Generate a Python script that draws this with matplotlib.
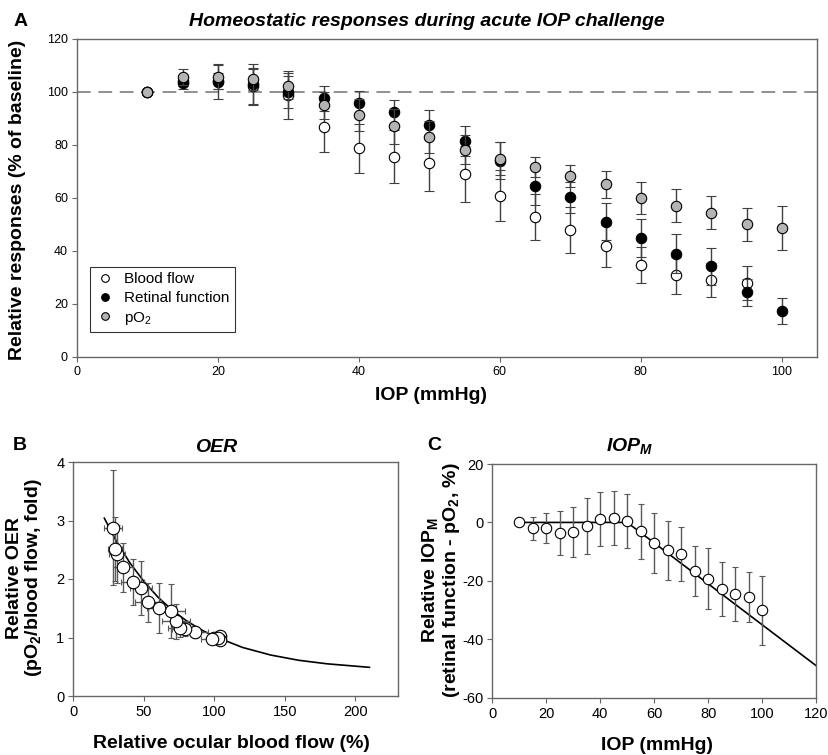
# %% Homeostatic responses during acute IOP challenge

import numpy as np
import matplotlib
matplotlib.use("Agg")
import matplotlib.pyplot as plt
from matplotlib.lines import Line2D

plt.rcParams["font.family"] = ["Liberation Sans", "DejaVu Sans"]
plt.rcParams["mathtext.fontset"] = "custom"
plt.rcParams["mathtext.rm"] = "Liberation Sans"
plt.rcParams["mathtext.it"] = "Liberation Sans:italic"
plt.rcParams["mathtext.bf"] = "Liberation Sans:bold"
plt.rcParams["mathtext.bfit"] = "Liberation Sans:italic:bold"
plt.rcParams["axes.unicode_minus"] = False

# %% Data

# Panel A: responses vs IOP
iop = [10, 15, 20, 25, 30, 35, 40, 45, 50, 55, 60, 65, 70, 75, 80, 85, 90, 95, 100]

iop_bf = iop[:-1]
blood_flow = [100, 104, 104, 102.1, 98.7, 86.5, 78.6, 75.5, 73.0, 68.9, 60.8,
              52.7, 47.9, 41.8, 34.6, 30.7, 28.8, 27.9]
blood_flow_err = [0, 2, 3, 7, 9, 9.4, 9.4, 10, 10.5, 10.7, 9.7,
                  8.8, 8.7, 8, 6.9, 6.9, 6.4, 6.4]

retinal = [100, 103.1, 103.8, 102.9, 100.0, 97.5, 95.6, 92.2, 87.5, 81.4, 74.0,
           64.4, 60.1, 50.9, 44.7, 38.9, 34.1, 24.3, 17.2]
retinal_err = [0, 2, 6.5, 7.4, 6, 4.6, 4.8, 4.8, 5.5, 5.8, 7,
               7, 6, 7, 7.2, 7.4, 7, 5, 4.9]

po2 = [100, 105.7, 105.7, 104.7, 102.1, 94.8, 91.2, 86.9, 82.8, 78.1, 74.7,
       71.6, 68.2, 65.0, 60.0, 57.0, 54.3, 49.9, 48.7]
po2_err = [0, 3, 4.5, 4, 5, 5, 6, 6.5, 6, 5.5, 6.3,
           3.6, 4.1, 5, 6, 6.1, 6.2, 6.1, 8.3]

# Panel B: relative OER vs relative ocular blood flow
oer_bf = [100, 104, 104, 102.5, 98.5, 86.5, 79, 76, 73, 69, 61,
          53, 48, 42, 35, 31, 29.5, 28]
oer_bf_err = [0, 3, 3, 6, 8, 9, 9, 9, 10, 10, 9,
              9, 8, 8, 7, 6, 5, 6.5]
oer = [1.00, 1.02, 0.96, 1.00, 0.98, 1.09, 1.15, 1.16, 1.28, 1.46, 1.50,
       1.60, 1.85, 1.95, 2.20, 2.43, 2.51, 2.88]
oer_err = [0, 0.05, 0.05, 0.06, 0.08, 0.1, 0.12, 0.15, 0.3, 0.46, 0.43,
           0.33, 0.46, 0.39, 0.42, 0.5, 0.55, 0.98]

# fitted curve
oer_fit_x = [22, 30, 40, 50, 60, 70, 80, 90, 100, 120, 140, 160, 180, 210]
oer_fit_y = [3.04, 2.67, 2.28, 1.96, 1.69, 1.47, 1.29, 1.14, 1.02, 0.83,
             0.70, 0.61, 0.55, 0.49]

# Panel C: relative IOP_M vs IOP
iopm = [0.0, -2.0, -1.9, -3.5, -3.3, -1.2, 1.3, 1.5, 0.4, -3.1, -7.1,
        -9.6, -10.8, -16.6, -19.2, -22.8, -24.5, -25.5, -30.1]
iopm_err = [0, 3.9, 5.0, 7.5, 8.6, 9.5, 9.2, 9.3, 9.3, 9.3, 10.2,
            10.0, 9.3, 8.6, 10.3, 9.4, 9.1, 8.5, 11.8]

# two-segment fit line
iopm_fit_x = [10, 50, 120]
iopm_fit_y = [0, 0, -49]

# %% Figure

W, H = 829, 755
fig = plt.figure(figsize=(W / 100, H / 100), dpi=100)

spine_col = "0.4"
err_col = "0.25"
gray_fill = "#b4b4b4"


def style_axes(ax, tick_size):
    for s in ax.spines.values():
        s.set_color(spine_col)
        s.set_linewidth(1.0)
    ax.tick_params(direction="out", length=3.5, width=0.8, color=spine_col,
                   labelsize=tick_size, pad=3)


def px_rect(left, top, right, bottom):
    return [left / W, 1 - bottom / H, (right - left) / W, (bottom - top) / H]


# ---- Panel A
axA = fig.add_axes(px_rect(77, 38.7, 817, 356.7))
axA.axhline(100, color="0.45", lw=1.1, dashes=(9, 5), zorder=1)

eb_kw = dict(fmt="o", ms=7.5, mew=0.8, mec="black", ecolor=err_col,
             elinewidth=1.0, capsize=3.5, capthick=1.0)
axA.errorbar(iop_bf, blood_flow, yerr=blood_flow_err, mfc="white", zorder=3, **eb_kw)
axA.errorbar(iop, retinal, yerr=retinal_err, mfc="black", zorder=4, **eb_kw)
axA.errorbar(iop, po2, yerr=po2_err, mfc=gray_fill, zorder=5, **eb_kw)

axA.set_xlim(0, 105)
axA.set_ylim(0, 120)
axA.set_xticks([0, 20, 40, 60, 80, 100])
axA.set_yticks([0, 20, 40, 60, 80, 100, 120])
style_axes(axA, 9)

handles = [
    Line2D([], [], ls="none", marker="o", ms=5.5, mfc="white", mec="black", mew=0.8),
    Line2D([], [], ls="none", marker="o", ms=5.5, mfc="black", mec="black", mew=0.8),
    Line2D([], [], ls="none", marker="o", ms=5.5, mfc=gray_fill, mec="black", mew=0.8),
]
leg = axA.legend(handles, ["Blood flow", "Retinal function", "pO$_2$"],
                 loc="lower left", bbox_to_anchor=(0.0176, 0.0777),
                 borderaxespad=0, fontsize=11, frameon=True, fancybox=False,
                 handletextpad=0.7, handlelength=1.2, borderpad=0.35,
                 labelspacing=0.3)
leg.get_frame().set_edgecolor("black")
leg.get_frame().set_linewidth(0.8)

fig.text(427 / W, 1 - 21 / H, "Homeostatic responses during acute IOP challenge",
         ha="center", va="center", fontsize=14, fontweight="bold", style="italic")
fig.text(431 / W, 1 - 396 / H, "IOP (mmHg)", ha="center", va="center",
         fontsize=14, fontweight="bold")
fig.text(18 / W, 1 - 200 / H, "Relative responses (% of baseline)", ha="center",
         va="center", rotation=90, fontsize=14, fontweight="bold")
fig.text(21 / W, 1 - 21 / H, "A", ha="center", va="center", fontsize=14,
         fontweight="bold")

# ---- Panel B
axB = fig.add_axes(px_rect(73.3, 462, 397.7, 696))
axB.plot(oer_fit_x, oer_fit_y, color="black", lw=1.2, zorder=2)
axB.errorbar(oer_bf, oer, xerr=oer_bf_err, yerr=oer_err, fmt="o", ms=9,
             mfc="white", mec="black", mew=0.8, ecolor="0.35", elinewidth=1.0,
             capsize=2, capthick=1.0, zorder=3)
axB.set_xlim(0, 230)
axB.set_ylim(0, 4)
axB.set_xticks([0, 50, 100, 150, 200])
axB.set_yticks([0, 1, 2, 3, 4])
style_axes(axB, 10.5)

fig.text(216 / W, 1 - 447 / H, "OER", ha="center", va="center", fontsize=14,
         fontweight="bold", style="italic")
fig.text(231 / W, 1 - 743 / H, "Relative ocular blood flow (%)", ha="center",
         va="center", fontsize=14, fontweight="bold")
fig.text(25 / W, 1 - 578 / H,
         "Relative OER\n(pO$_\\mathbf{2}$/blood flow, fold)", ha="center",
         va="center", rotation=90, fontsize=14, fontweight="bold",
         linespacing=1.0)
fig.text(20 / W, 1 - 445 / H, "B", ha="center", va="center", fontsize=14,
         fontweight="bold")

# ---- Panel C
axC = fig.add_axes(px_rect(492.3, 464, 816, 697.7))
axC.plot(iopm_fit_x, iopm_fit_y, color="black", lw=1.2, zorder=2)
axC.errorbar(iop, iopm, yerr=iopm_err, fmt="o", ms=7.5, mfc="white",
             mec="black", mew=0.8, ecolor="0.35", elinewidth=1.0, capsize=2,
             capthick=1.0, zorder=3)
axC.set_xlim(0, 120)
axC.set_ylim(-60, 20)
axC.set_xticks([0, 20, 40, 60, 80, 100, 120])
axC.set_yticks([-60, -40, -20, 0, 20])
style_axes(axC, 10.5)

fig.text(630 / W, 1 - 446 / H, "IOP$_\\mathbfit{M}$", ha="center", va="center",
         fontsize=14, fontweight="bold", style="italic")
fig.text(657 / W, 1 - 746 / H, "IOP (mmHg)", ha="center", va="center",
         fontsize=14, fontweight="bold")
fig.text(441 / W, 1 - 580 / H,
         "Relative IOP$_\\mathbf{M}$\n(retinal function - pO$_\\mathbf{2}$, %)",
         ha="center", va="center", rotation=90, fontsize=14,
         fontweight="bold", linespacing=1.0)
fig.text(434 / W, 1 - 445 / H, "C", ha="center", va="center", fontsize=14,
         fontweight="bold")

fig.savefig("out.png", dpi=100)
